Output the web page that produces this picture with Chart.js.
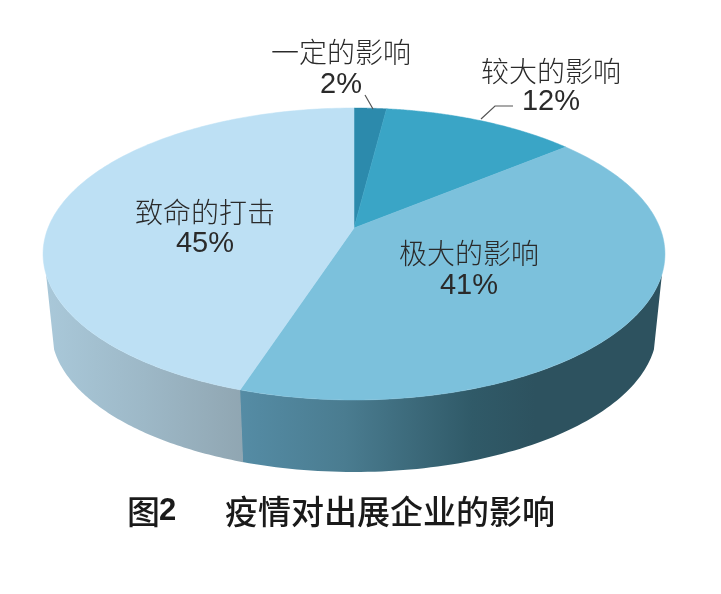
<!DOCTYPE html>
<html>
<head>
<meta charset="utf-8">
<style>
  html, body { margin: 0; padding: 0; background: #fff; }
  canvas { display: block; }
</style>
<script src="https://cdn.jsdelivr.net/npm/chart.js@4"></script>
</head>
<body>
<canvas id="pie" width="721" height="594"></canvas>
<script>
const categories = ["一定的影响", "较大的影响", "极大的影响", "致命的打击"];
const shares = [2, 12, 41, 45];
const topColors = ["#2c8aac", "#3aa5c6", "#7cc1dc", "#bde0f4"];
const figureNo = "图";
const figureNoDigit = "2";
const figureTitle = "疫情对出展企业的影响";

const CN = '"Noto Sans CJK SC", sans-serif';
const LATIN = '"Liberation Sans", Arial, sans-serif';

// where each label sits: centre x, name y, percent y
const labelSpots = [[341, 52, 85], [551, 71, 102], [469, 253, 286], [205, 212, 244]];

/* ---------- perspective disc: chart.js gives the angles, we tilt them ---------- */
const PERSP = 0.178;
function rim(arc, angle, level) {
  const t = angle + Math.PI / 2; // clockwise from 12 o'clock
  const u = Math.sin(t), v = -Math.cos(t);
  const w = 1 - PERSP * v;
  const rx = arc.outerRadius * (level ? 1.307 : 1.342);
  const ry = arc.outerRadius * (level ? 0.6035 : 0.62);
  const cy = arc.y + (level ? 76.6 : 0);
  return [arc.x + rx * u / w, cy + ry * v / w];
}

function wall(ctx, arc, from, to, stops) {
  const a0 = Math.max(from, WALL_START), a1 = Math.min(to, WALL_END);
  if (a1 <= a0) return;
  const n = 80, pts = [];
  for (let i = 0; i <= n; i++) pts.push(rim(arc, a0 + (a1 - a0) * i / n, 0));
  for (let i = n; i >= 0; i--) pts.push(rim(arc, a0 + (a1 - a0) * i / n, 1));
  const xs = pts.map((p) => p[0]);
  const g = ctx.createLinearGradient(Math.min(...xs), 0, Math.max(...xs), 0);
  stops.forEach((s) => g.addColorStop(s[0], s[1]));
  ctx.beginPath();
  pts.forEach((p, i) => (i ? ctx.lineTo(p[0], p[1]) : ctx.moveTo(p[0], p[1])));
  ctx.closePath();
  ctx.fillStyle = g;
  ctx.fill();
}

const DEG = Math.PI / 180;
const WALL_START = 18 * DEG;  // right silhouette, in chart.js angles
const WALL_END = 162 * DEG;   // left silhouette

const wallStops = [
  null,
  null,
  [[0, "#558ca5"], [0.25, "#4a7c90"], [0.55, "#305a68"], [0.7, "#2d525f"], [1, "#2d525f"]],
  [[0, "#a9c8d9"], [0.5, "#9db8c7"], [1, "#90a6b2"]],
];

const tiltedPie = {
  id: "tiltedPie",
  beforeDatasetsDraw(chart) {
    const ctx = chart.ctx;
    const arcs = chart.getDatasetMeta(0).data;
    ctx.save();
    arcs.forEach((arc, i) => {
      if (wallStops[i]) wall(ctx, arc, arc.startAngle, arc.endAngle + 0.002, wallStops[i]);
    });
    arcs.forEach((arc, i) => {
      const steps = 160;
      ctx.beginPath();
      ctx.moveTo(arc.x, arc.y);
      for (let k = 0; k <= steps; k++) {
        const p = rim(arc, arc.startAngle + (arc.endAngle - arc.startAngle) * k / steps, 0);
        ctx.lineTo(p[0], p[1]);
      }
      ctx.closePath();
      ctx.fillStyle = topColors[i];
      ctx.fill();
      ctx.strokeStyle = topColors[i];
      ctx.lineWidth = 0.5;
      ctx.stroke();
    });
    ctx.restore();
    return false; // skip the flat round pie
  },
  afterDraw(chart) {
    const ctx = chart.ctx;
    ctx.save();
    // leader lines
    ctx.strokeStyle = "#555";
    ctx.lineWidth = 1.2;
    ctx.beginPath();
    ctx.moveTo(365, 95); ctx.lineTo(373, 109);
    ctx.moveTo(481, 119); ctx.lineTo(495, 106); ctx.lineTo(513, 106);
    ctx.stroke();

    ctx.textBaseline = "middle";
    ctx.textAlign = "center";
    ctx.fillStyle = "#2a2a2a";
    categories.forEach((name, i) => {
      const s = labelSpots[i];
      ctx.font = "300 28px " + CN;
      ctx.fillText(name, s[0], s[1]);
      ctx.font = "29px " + LATIN;
      ctx.fillText(shares[i] + "%", s[0], s[2]);
    });

    ctx.fillStyle = "#1a1a1a";
    ctx.textAlign = "left";
    ctx.font = "500 33px " + CN;
    ctx.fillText(figureNo, 127, 511);
    ctx.fillText(figureTitle, 225, 511);
    ctx.font = "bold 31px " + LATIN;
    ctx.fillText(figureNoDigit, 159, 511);
    ctx.restore();
  },
};

new Chart(document.getElementById("pie"), {
  type: "pie",
  data: {
    labels: categories,
    datasets: [{ data: shares, backgroundColor: topColors, borderWidth: 0 }],
  },
  options: {
    responsive: false,
    animation: false,
    layout: { padding: { left: 0, right: 13, top: 0, bottom: 138 } },
    plugins: { legend: { display: false }, tooltip: { enabled: false } },
  },
  plugins: [tiltedPie],
});
</script>
</body>
</html>
